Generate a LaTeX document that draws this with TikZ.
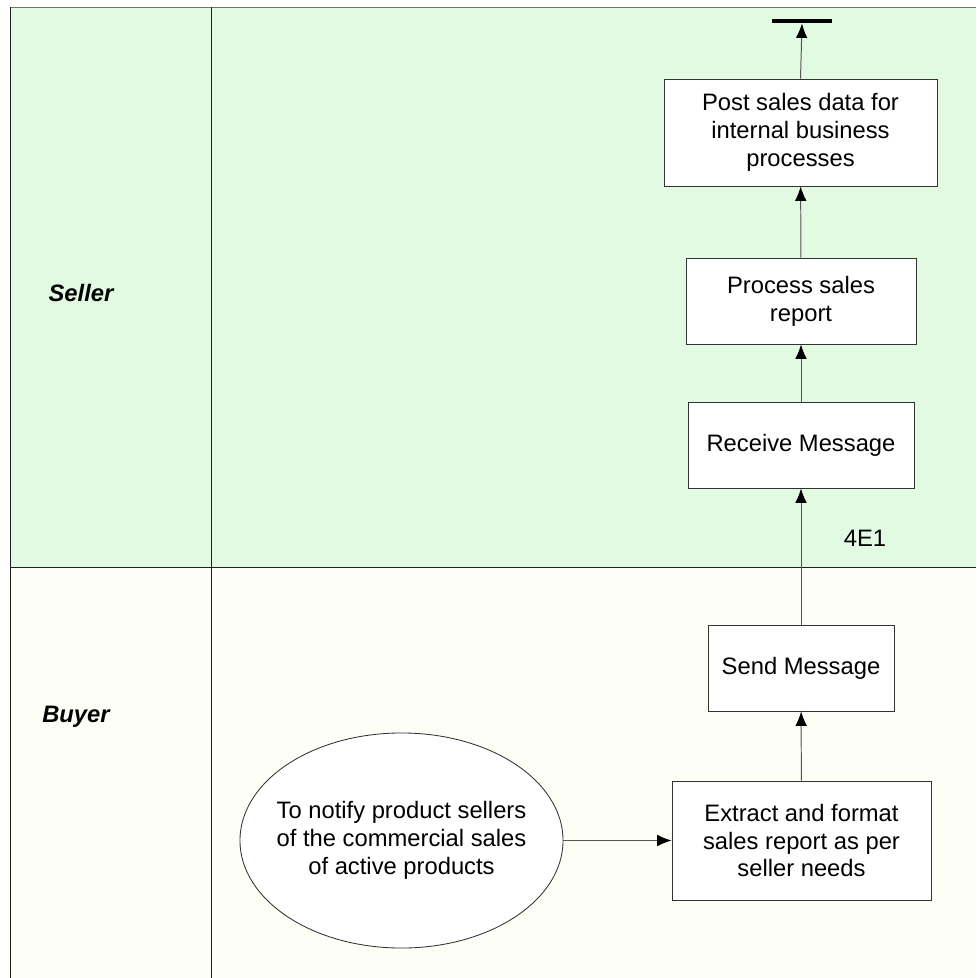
\documentclass[tikz,border=0pt]{standalone}
\usepackage{fontspec}
\setmainfont{Liberation Sans}
\usetikzlibrary{positioning,arrows.meta,shapes.geometric}
\definecolor{sellF}{RGB}{226,250,226}
\definecolor{buyF}{RGB}{253,254,246}
\definecolor{laneL}{RGB}{30,30,30}
\definecolor{boxL}{RGB}{50,50,50}
\definecolor{arr}{RGB}{85,85,85}

\begin{document}
\begin{tikzpicture}[
  x=0.025cm, y=-0.025cm,
  font=\fontsize{16.9}{19.9}\selectfont,
  box/.style={draw=boxL, fill=white, line width=0.6pt, align=center, inner sep=2pt, minimum height=2.15cm},
  goal/.style={ellipse, draw=boxL, fill=white, line width=0.6pt, align=center, inner xsep=-0.28cm, inner ysep=0pt, minimum width=8.075cm, minimum height=5.375cm},
  lane/.style={font=\fontsize{16.9}{19.9}\selectfont\bfseries\itshape},
  flow/.style={-{Latex[length=3.6mm,width=2.9mm,color=black]}, line width=0.7pt, draw=arr},
  rule/.style={draw=laneL, line width=0.7pt},
]
\useasboundingbox (0,0) rectangle (976,978);

% ---- swimlanes ----
\fill[sellF] (10,7) rectangle (976,567);
\fill[buyF]  (10,567) rectangle (976,978);
\draw[rule,draw=black!55] (10,7) -- (976,7);
\draw[rule] (10,7) -- (10,978);
\draw[rule] (211,7) -- (211,978);
\draw[rule] (10,567) -- (976,567);
\node[lane] (seller) at (81,293) {Seller};
\node[lane] (buyer)  at (76,717) {Buyer};

% ---- buyer side ----
\node[goal] (notify) at (401.5,840.5) {To notify product sellers\\of the commercial sales\\of active products};
\node[box,minimum width=6.475cm,minimum height=2.975cm] (extract) at (801.5,840.5) {Extract and format\\sales report as per\\seller needs};
\node[box,minimum width=4.65cm] (send) at (801,668) {Send Message};

% ---- seller side ----
\node[box,minimum width=5.65cm] (receive) at (801,445) {Receive Message};
\node[box,minimum width=5.75cm] (process) at (801,301) {Process sales\\report};
\node[box,minimum width=6.825cm,minimum height=2.675cm] (post) at (800.5,132.5) {Post sales data for\\internal business\\processes};
\node[fill=black, inner sep=0pt, minimum width=1.5cm, minimum height=1.1mm] (endbar) at (802,21) {};

% ---- flow arrows ----
\draw[flow] (notify) -- (extract);
\draw[flow] (extract) -- (send);
\draw[flow] (send) -- (receive);
\draw[flow] (receive) -- (process);
\draw[flow] (process) -- (post);
\draw[flow] (post.north) -- (endbar.south);
\node (msgid) at (865,538) {4E1};

\end{tikzpicture}
\end{document}
